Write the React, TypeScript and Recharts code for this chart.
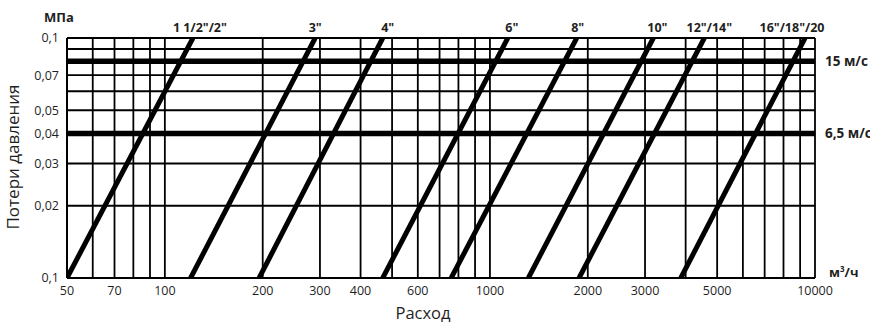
import * as React from "react";
import {
  CartesianGrid,
  Line,
  LineChart,
  ReferenceDot,
  ReferenceLine,
  XAxis,
  YAxis,
} from "recharts";

/* ── data ─────────────────────────────────────────────────────────────────── */

// flow, m³/h — grid lines and the ones that carry a label
const flowGrid = [
  50, 60, 70, 80, 90, 100, 200, 300, 400, 500, 600, 700, 800, 900, 1000, 2000,
  3000, 4000, 5000, 6000, 7000, 8000, 9000, 10000,
];
const flowLabels = [50, 70, 100, 200, 300, 400, 600, 1000, 2000, 3000, 5000, 10000];

// pressure loss, MPa
const lossGrid = [0.01, 0.02, 0.03, 0.04, 0.05, 0.06, 0.07, 0.08, 0.09, 0.1];
const lossLabelValues = [0.01, 0.02, 0.03, 0.04, 0.05, 0.07, 0.1];
// the original prints "0,1" at the bottom too
const lossLabelTexts = ["0,1", "0,02", "0,03", "0,04", "0,05", "0,07", "0,1"];

// one straight line per pipe size, from loss 0.01 to loss 0.1
const pipeSizes = ['1 1/2"/2"', '3"', '4"', '6"', '8"', '10"', '12"/14"', '16"/18"/20'];
const flowAtMinLoss = [50, 120, 195, 468, 760, 1313, 1880, 3865];
const flowAtMaxLoss = [122, 290, 468, 1135, 1849, 3182, 4566, 9317];
const LOSS_MIN = 0.01;
const LOSS_MAX = 0.1;

// velocity limits
const speedLoss = [0.08, 0.04];
const speedLabels = ["15 м/с", "6,5 м/с"];

/* ── styling ──────────────────────────────────────────────────────────────── */

const W = 870;
const H = 327;
const FONT = '"Open Sans", "DejaVu Sans", sans-serif';
const INK = "#000";
const TEXT = "#1f1f1f";
// small horizontal nudges so the size captions sit like the original
const captionShift = [7, 0, 5, 4, 1, 4, 5, -13];

export default function App() {
  const lossLabel = (v: number) => {
    const i = lossLabelValues.findIndex((x) => Math.abs(x - v) < 1e-9);
    return i >= 0 ? lossLabelTexts[i] : "";
  };
  const flowLabel = (v: number) => (flowLabels.includes(v) ? String(v) : "");

  const overlay: React.CSSProperties = {
    position: "absolute",
    fontFamily: FONT,
    color: TEXT,
    whiteSpace: "nowrap",
    lineHeight: 1,
  };

  return (
    <div style={{ position: "absolute", left: 0, top: 0, width: W, height: H, background: "#fff" }}>
      <LineChart
        width={W}
        height={H}
        margin={{ top: 38, right: 55, left: 7, bottom: 19 }}
        style={{ fontFamily: FONT }}
      >
        <CartesianGrid stroke={INK} strokeWidth={1.8} />
        <XAxis
          type="number"
          dataKey="q"
          scale="log"
          domain={[50, 10000]}
          ticks={flowGrid}
          interval={0}
          allowDataOverflow
          tickFormatter={flowLabel}
          tick={{ fill: TEXT, fontSize: 12.5 }}
          tickLine={false}
          axisLine={{ stroke: INK, strokeWidth: 2 }}
          height={30}
        />
        <YAxis
          type="number"
          dataKey="p"
          scale="log"
          domain={[LOSS_MIN, LOSS_MAX]}
          ticks={lossGrid}
          interval={0}
          allowDataOverflow
          tickFormatter={lossLabel}
          tick={{ fill: TEXT, fontSize: 12.5 }}
          tickLine={false}
          axisLine={{ stroke: INK, strokeWidth: 2 }}
          width={60}
        />

        {speedLoss.map((p, i) => (
          <ReferenceLine
            key={`v${i}`}
            y={p}
            stroke={INK}
            strokeWidth={5.5}
            label={{
              value: speedLabels[i],
              position: "right",
              offset: 10,
              fill: TEXT,
              fontSize: 13.5,
              fontWeight: 700,
              fontFamily: FONT,
            }}
          />
        ))}

        {pipeSizes.map((name, i) => (
          <Line
            key={name}
            name={name}
            data={[
              { q: flowAtMinLoss[i], p: LOSS_MIN },
              { q: flowAtMaxLoss[i], p: LOSS_MAX },
            ]}
            dataKey="p"
            type="linear"
            stroke={INK}
            strokeWidth={5}
            dot={false}
            activeDot={false}
            isAnimationActive={false}
          />
        ))}

        {pipeSizes.map((name, i) => (
          <ReferenceDot
            key={`c${i}`}
            x={flowAtMaxLoss[i]}
            y={LOSS_MAX}
            r={0}
            stroke="none"
            label={{
              value: name,
              position: "top",
              offset: 6,
              dx: captionShift[i],
              fill: TEXT,
              fontSize: 12.5,
              fontWeight: 700,
              fontFamily: FONT,
            }}
          />
        ))}
      </LineChart>

      <div style={{ ...overlay, left: 44, top: 11, fontSize: 13, fontWeight: 700 }}>МПа</div>
      <div style={{ ...overlay, left: 829, top: 265, fontSize: 13, fontWeight: 700 }}>
        м<sup style={{ fontSize: 8 }}>3</sup>/ч
      </div>
      <div
        style={{
          ...overlay,
          left: 423,
          top: 305,
          fontSize: 16.5,
          transform: "translateX(-50%)",
        }}
      >
        Расход
      </div>
      <div
        style={{
          ...overlay,
          left: 12,
          top: 157,
          fontSize: 17,
          transform: "translate(-50%, -50%) rotate(-90deg)",
        }}
      >
        Потери давления
      </div>
    </div>
  );
}
